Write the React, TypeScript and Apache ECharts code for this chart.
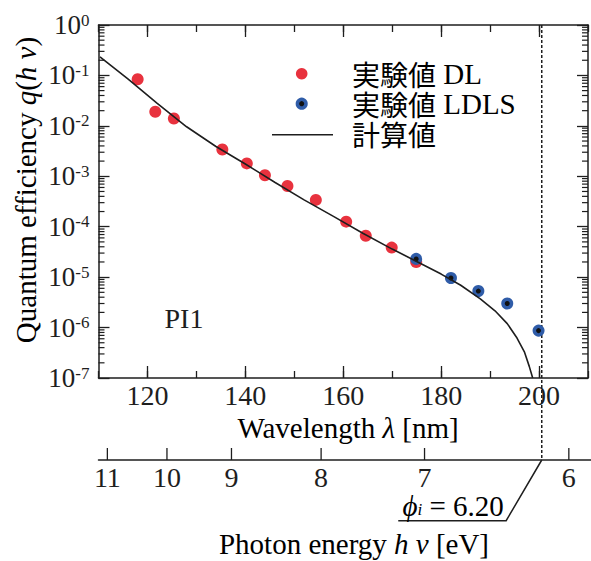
import React, { useEffect, useRef } from 'react';
import * as echarts from 'echarts';

// ---- data ----
const dlWavelength = [118.0, 121.6, 125.4, 135.3, 140.3, 144.0, 148.6, 154.4, 160.6, 164.6, 169.9, 174.9];
const dlQE = [8.4e-2, 1.9e-2, 1.4e-2, 3.4e-3, 1.8e-3, 1.05e-3, 6.4e-4, 3.4e-4, 1.26e-4, 6.6e-5, 3.85e-5, 2.0e-5];
const ldlsWavelength = [174.9, 182.0, 187.6, 193.5, 199.9];
const ldlsQE = [2.3e-5, 9.6e-6, 5.3e-6, 3.0e-6, 8.7e-7];
const calcWavelength = [110.3, 116.0, 122.0, 128.0, 134.0, 140.0, 146.0, 152.0, 158.0, 164.0, 170.0, 175.0, 180.0, 184.0, 188.0, 191.0, 193.5, 195.5, 197.0, 198.0, 198.7];
const calcQE = [0.234, 8.5e-2, 2.8e-2, 9.6e-3, 3.9e-3, 1.75e-3, 7.6e-4, 3.4e-4, 1.6e-4, 7.4e-5, 3.6e-5, 2.05e-5, 1.15e-5, 6.9e-6, 3.7e-6, 2.15e-6, 1.2e-6, 6.2e-7, 3.3e-7, 1.7e-7, 1.0e-7];
const wavelengthMajorTicks = [120, 140, 160, 180, 200];
const energyTickLabels = ['11', '10', '9', '8', '7', '6'];
const energyTickWavelength = [111.8, 123.9, 137.0, 155.2, 176.2, 205.5];
const workFunctionLabel = '6.20';
const workFunctionWavelength = 200;
const legendCJK = ['実験値', '実験値', '計算値'];
const legendLatin = ['DL', 'LDLS', ''];
const sampleLabel = 'PI1';

const SERIF = 'Liberation Serif';
const CJK = 'Noto Sans CJK JP';
const INK = '#1e1e1e';
const RED = '#e8323e';
const BLUE = '#2f5ca8';

const GRID_LEFT = 98.5;
const GRID_TOP = 25;
const GRID_W = 494;
const GRID_H = 353;

const minorLogValues: number[] = [];
for (let e = -7; e < 0; e++) {
  for (let m = 2; m <= 9; m++) minorLogValues.push(m * Math.pow(10, e));
}

export default function App() {
  const ref = useRef<HTMLDivElement>(null);
  useEffect(() => {
    if (!ref.current) return;
    const chart = echarts.init(ref.current, undefined, { renderer: 'svg' });
    const rText = { fontFamily: SERIF, color: INK };
    const option: any = {
      animation: false,
      grid: [
        { left: GRID_LEFT, top: GRID_TOP, width: GRID_W, height: GRID_H },
        { left: GRID_LEFT, top: 400, width: GRID_W, height: 60 },
      ],
      xAxis: [
        {
          gridIndex: 0, type: 'value', position: 'bottom', min: 110, max: 210, interval: 10,
          axisLine: { show: true, onZero: false, lineStyle: { color: INK, width: 1.5 } },
          axisTick: { show: true, inside: true, length: 7, lineStyle: { color: INK, width: 1.3 } },
          axisLabel: {
            show: true, margin: 3, fontSize: 28, fontFamily: SERIF, color: INK,
            formatter: (v: number) => (wavelengthMajorTicks.indexOf(v) >= 0 ? String(v) : ''),
          },
          splitLine: { show: false },
        },
        {
          gridIndex: 0, type: 'value', position: 'bottom', min: 110, max: 210,
          axisLine: { show: false },
          axisTick: { show: true, inside: true, length: 12, customValues: wavelengthMajorTicks, lineStyle: { color: INK, width: 1.3 } },
          axisLabel: { show: false },
          splitLine: { show: false },
        },
        {
          gridIndex: 0, type: 'value', position: 'top', min: 110, max: 210, interval: 10,
          axisLine: { show: true, onZero: false, lineStyle: { color: INK, width: 1.5 } },
          axisTick: { show: true, inside: true, length: 7, lineStyle: { color: INK, width: 1.3 } },
          axisLabel: { show: false },
          splitLine: { show: false },
        },
        {
          gridIndex: 0, type: 'value', position: 'top', min: 110, max: 210,
          axisLine: { show: false },
          axisTick: { show: true, inside: true, length: 12, customValues: wavelengthMajorTicks, lineStyle: { color: INK, width: 1.3 } },
          axisLabel: { show: false },
          splitLine: { show: false },
        },
        {
          gridIndex: 1, type: 'value', position: 'bottom', min: 110, max: 210,
          axisLine: { show: true, onZero: false, lineStyle: { color: INK, width: 1.5 } },
          axisTick: { show: false },
          axisLabel: { show: false },
          splitLine: { show: false },
        },
      ],
      yAxis: [
        {
          gridIndex: 0, type: 'log', logBase: 10, min: 1e-7, max: 1, position: 'left',
          axisLine: { show: true, onZero: false, lineStyle: { color: INK, width: 1.5 } },
          axisTick: { show: true, inside: true, length: 11, lineStyle: { color: INK, width: 1.3 } },
          axisLabel: {
            show: true, margin: 9,
            formatter: (v: number) => `{b|10}{s|${Math.round(Math.log10(v))}}`,
            rich: {
              b: { fontSize: 27, fontFamily: SERIF, color: INK },
              s: { fontSize: 17, fontFamily: SERIF, color: INK, verticalAlign: 'top' },
            },
          },
          splitLine: { show: false },
          minorTick: { show: false },
        },
        {
          gridIndex: 0, type: 'log', logBase: 10, min: 1e-7, max: 1, position: 'right',
          axisLine: { show: true, onZero: false, lineStyle: { color: INK, width: 1.5 } },
          axisTick: { show: true, inside: true, length: 11, lineStyle: { color: INK, width: 1.3 } },
          axisLabel: { show: false },
          splitLine: { show: false },
        },
        { gridIndex: 1, type: 'value', min: 0, max: 1, show: false },
      ],
      series: [
        {
          type: 'scatter', xAxisIndex: 0, yAxisIndex: 0, symbol: 'circle', symbolSize: 12,
          itemStyle: { color: RED, opacity: 1 },
          data: dlWavelength.map((w, i) => [w, dlQE[i]]),
          z: 3,
        },
        {
          type: 'scatter', xAxisIndex: 0, yAxisIndex: 0, symbol: 'circle', symbolSize: 8.5,
          itemStyle: { color: '#111', borderColor: BLUE, borderWidth: 3.5, opacity: 1 },
          data: ldlsWavelength.map((w, i) => [w, ldlsQE[i]]),
          z: 4,
        },
        {
          type: 'line', xAxisIndex: 0, yAxisIndex: 0, showSymbol: false, symbol: 'none',
          smooth: false, clip: true,
          lineStyle: { color: INK, width: 1.6 },
          data: calcWavelength.map((w, i) => [w, calcQE[i]]),
          z: 5,
        },
        {
          type: 'custom', xAxisIndex: 0, yAxisIndex: 0, clip: false, silent: true,
          data: minorLogValues.map((v) => [110, v]),
          renderItem: (params: any, api: any) => {
            const p = api.coord([110, api.value(1)]);
            const cs = params.coordSys;
            const st = { stroke: INK, lineWidth: 1.2 };
            return {
              type: 'group',
              children: [
                { type: 'line', shape: { x1: cs.x, y1: p[1], x2: cs.x + 6, y2: p[1] }, style: st },
                { type: 'line', shape: { x1: cs.x + cs.width, y1: p[1], x2: cs.x + cs.width - 6, y2: p[1] }, style: st },
              ],
            };
          },
          z: 2,
        },
        {
          type: 'custom', xAxisIndex: 4, yAxisIndex: 2, clip: false, silent: true,
          data: energyTickWavelength.map((w) => [w, 0]),
          renderItem: (params: any, api: any) => {
            const p = api.coord([api.value(0), 0]);
            return {
              type: 'group',
              children: [
                { type: 'line', shape: { x1: p[0], y1: p[1], x2: p[0], y2: p[1] - 12 }, style: { stroke: INK, lineWidth: 1.3 } },
                {
                  type: 'text', x: p[0], y: p[1] + 17,
                  style: { text: energyTickLabels[params.dataIndex], fontSize: 28, fontFamily: SERIF, fill: INK, align: 'center', verticalAlign: 'middle' },
                },
              ],
            };
          },
        },
        {
          type: 'custom', xAxisIndex: 4, yAxisIndex: 2, clip: false, silent: true,
          data: [[workFunctionWavelength, 0]],
          renderItem: (params: any, api: any) => {
            const p = api.coord([api.value(0), 0]);
            const x = p[0];
            const yb = p[1];
            return {
              type: 'group',
              children: [
                { type: 'line', shape: { x1: x, y1: GRID_TOP, x2: x, y2: yb }, style: { stroke: INK, lineWidth: 1.5, lineDash: [3, 2] } },
                { type: 'polyline', shape: { points: [[x, yb], [x - 35.6, yb + 60.7], [x - 143.5, yb + 60.7]] }, style: { stroke: INK, lineWidth: 1.5, fill: null } },
                {
                  type: 'text', x: x - 38, y: yb + 46,
                  style: {
                    text: `{i|ϕ}{sub|i}{r| = ${workFunctionLabel}}`,
                    align: 'right', verticalAlign: 'middle',
                    rich: {
                      i: { ...rText, fontSize: 29, fontStyle: 'italic', lineHeight: 24 },
                      sub: { ...rText, fontSize: 17, fontStyle: 'italic', verticalAlign: 'bottom', lineHeight: 24 },
                      r: { ...rText, fontSize: 29, lineHeight: 24 },
                    },
                  },
                },
              ],
            };
          },
        },
      ],
      graphic: [
        { type: 'circle', shape: { cx: 301.7, cy: 73.7, r: 5.8 }, style: { fill: RED } },
        { type: 'circle', shape: { cx: 301.7, cy: 103.7, r: 4.3 }, style: { fill: '#111', stroke: BLUE, lineWidth: 3.5 } },
        { type: 'line', shape: { x1: 272, y1: 134.7, x2: 333, y2: 134.7 }, style: { stroke: INK, lineWidth: 1.6 } },
        ...legendCJK.map((t, i) => ({
          type: 'text', x: 352, y: [74, 104, 134][i],
          style: {
            text: legendLatin[i] ? `{c|${t}}{l| ${legendLatin[i]}}` : `{c|${t}}`,
            align: 'left', verticalAlign: 'middle',
            rich: {
              c: { fontSize: 28, fontFamily: CJK, color: INK, lineHeight: 26 },
              l: { fontSize: 29, fontFamily: SERIF, color: INK, lineHeight: 26 },
            },
          },
        })),
        {
          type: 'text', x: 184, y: 318,
          style: { text: sampleLabel, fontSize: 28, fontFamily: SERIF, fill: INK, align: 'center', verticalAlign: 'middle' },
        },
        {
          type: 'text', x: 348, y: 428,
          style: {
            text: '{r|Wavelength }{i|λ}{r| [nm]}', align: 'center', verticalAlign: 'middle',
            rich: { r: { ...rText, fontSize: 29 }, i: { ...rText, fontSize: 29, fontStyle: 'italic' } },
          },
        },
        {
          type: 'text', x: 354, y: 544,
          style: {
            text: '{r|Photon energy }{i|h ν}{r| [eV]}', align: 'center', verticalAlign: 'middle',
            rich: { r: { ...rText, fontSize: 29 }, i: { ...rText, fontSize: 29, fontStyle: 'italic' } },
          },
        },
        {
          type: 'text', x: 26, y: 190, rotation: Math.PI / 2,
          style: {
            text: '{r|Quantum efficiency }{i|q}{r|(}{i|h ν}{r|)}', align: 'center', verticalAlign: 'middle',
            rich: { r: { ...rText, fontSize: 29 }, i: { ...rText, fontSize: 29, fontStyle: 'italic' } },
          },
        },
      ],
    };
    chart.setOption(option);
    return () => chart.dispose();
  }, []);
  return (
    <div
      ref={ref}
      style={{ position: 'fixed', left: 0, top: 0, width: 591, height: 561, background: '#fff' }}
    />
  );
}
